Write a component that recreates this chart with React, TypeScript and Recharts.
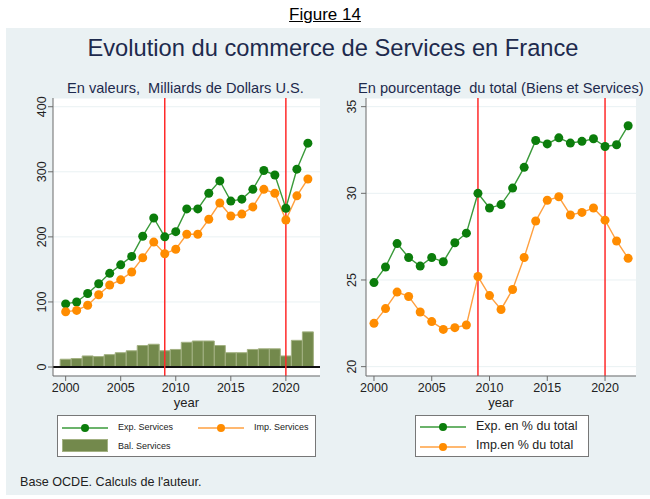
import { ComposedChart, Line, Bar, XAxis, YAxis, CartesianGrid, ReferenceLine } from 'recharts';

const YEARS = [2000, 2001, 2002, 2003, 2004, 2005, 2006, 2007, 2008, 2009, 2010, 2011, 2012, 2013, 2014, 2015, 2016, 2017, 2018, 2019, 2020, 2021, 2022];
const EXP_SERVICES = [97, 100, 113, 128, 144, 157, 170, 201, 229, 200, 208, 243, 243, 267, 286, 255, 258, 273, 302, 295, 244, 304, 344];
const IMP_SERVICES = [85, 87, 95, 111, 126, 134, 146, 168, 192, 174, 181, 204, 204, 227, 252, 232, 235, 246, 273, 267, 226, 263, 289];
const BAL_SERVICES = [12, 13, 17, 16, 19, 22, 25, 33, 35, 25, 27, 38, 40, 40, 33, 22, 22, 27, 28, 28, 17, 41, 54];
const EXP_PCT = [24.85, 25.75, 27.1, 26.3, 25.8, 26.3, 26.05, 27.15, 27.7, 30.0, 29.15, 29.35, 30.3, 31.5, 33.05, 32.85, 33.2, 32.9, 33.0, 33.15, 32.7, 32.8, 33.9];
const IMP_PCT = [22.5, 23.35, 24.3, 24.05, 23.15, 22.6, 22.15, 22.25, 22.4, 25.2, 24.1, 23.3, 24.45, 26.3, 28.4, 29.6, 29.8, 28.75, 28.9, 29.15, 28.45, 27.25, 26.25];
const X_TICKS = [2000, 2005, 2010, 2015, 2020];
const LEFT_Y_TICKS = [0, 100, 200, 300, 400];
const RIGHT_Y_TICKS = [20, 25, 30, 35];
const CRISIS_YEARS = [2009, 2020];

const valuesData = YEARS.map((year, i) => ({
    year,
    exp: EXP_SERVICES[i],
    imp: IMP_SERVICES[i],
    bal: BAL_SERVICES[i],
}));

const pctData = YEARS.map((year, i) => ({
    year,
    exp: EXP_PCT[i],
    imp: IMP_PCT[i],
}));

const FONT = '"Liberation Sans", Arial, sans-serif';
const NAVY = '#1d2a4d';
const TEXT = '#222';
const AXIS = '#6b6b6b';
const GRID = '#e9f1f3';
const GREEN_LINE = '#3a9a3a';
const GREEN_DOT = '#0b7d0b';
const ORANGE_LINE = '#ffa040';
const ORANGE_DOT = '#ff8c00';
const BAR_FILL = '#73894c';
const BAR_STROKE = '#a3b182';
const RED = '#ff2a2a';

const RotatedTick = (props: any) => {
    const { x, y, payload } = props;
    return (
        <text x={x} y={y} transform={`rotate(-90 ${x} ${y})`} textAnchor="middle" fontSize={12.5} fill={TEXT} fontFamily={FONT}>
            {payload.value}
        </text>
    );
};

const LineSwatch = ({ line, dot }: { line: string; dot: string }) => (
    <svg width={46} height={10} style={{ display: 'block' }}>
        <line x1={0} y1={5} x2={46} y2={5} stroke={line} strokeWidth={1.5} />
        <circle cx={23} cy={5} r={4} fill={dot} />
    </svg>
);

export default function App() {
    return (
        <div style={{ position: 'absolute', left: 0, top: 0, width: 650, height: 499, background: '#fff', fontFamily: FONT, overflow: 'hidden' }}>
            <div style={{ position: 'absolute', left: 0, top: 5, width: 650, textAlign: 'center', fontSize: 17, color: '#000', textDecoration: 'underline' }}>
                Figure 14
            </div>
            <div style={{ position: 'absolute', left: 6, top: 28, width: 644, height: 467, background: '#eaf1f3' }} />
            <div style={{ position: 'absolute', left: 0, top: 35, width: 666, textAlign: 'center', fontSize: 23.7, color: NAVY }}>
                Evolution du commerce de Services en France
            </div>
            <div style={{ position: 'absolute', left: 67, top: 80, fontSize: 14.6, color: NAVY, whiteSpace: 'pre' }}>
                {'En valeurs,  Milliards de Dollars U.S.'}
            </div>
            <div style={{ position: 'absolute', left: 358, top: 80, fontSize: 14.6, color: NAVY, whiteSpace: 'pre' }}>
                {'En pourcentage  du total (Biens et Services)'}
            </div>

            <div style={{ position: 'absolute', left: 0, top: 0 }}>
                <ComposedChart width={330} height={420} data={valuesData} margin={{ top: 98, right: 10, bottom: 14, left: 0 }}>
                    <CartesianGrid vertical={false} stroke={GRID} fill="#fff" fillOpacity={1} />
                    <XAxis
                        dataKey="year"
                        type="number"
                        domain={[1998.85, 2023.1]}
                        ticks={X_TICKS}
                        height={30}
                        tickSize={5}
                        stroke={AXIS}
                        tick={{ fontSize: 12.5, fill: TEXT, fontFamily: FONT }}
                        allowDataOverflow
                    />
                    <YAxis
                        type="number"
                        domain={[-13.8, 413.4]}
                        ticks={LEFT_Y_TICKS}
                        width={53}
                        tickSize={5}
                        stroke={AXIS}
                        tick={<RotatedTick />}
                        allowDataOverflow
                    />
                    <Bar dataKey="bal" barSize={11} fill={BAR_FILL} stroke={BAR_STROKE} strokeWidth={1} isAnimationActive={false} />
                    <ReferenceLine y={0} stroke="#111" strokeWidth={2} />
                    {CRISIS_YEARS.map((yr) => (
                        <ReferenceLine key={yr} x={yr} stroke={RED} strokeWidth={1.5} />
                    ))}
                    <Line dataKey="exp" stroke={GREEN_LINE} strokeWidth={1.4} dot={{ r: 4.5, fill: GREEN_DOT, stroke: GREEN_DOT, strokeWidth: 0 }} isAnimationActive={false} />
                    <Line dataKey="imp" stroke={ORANGE_LINE} strokeWidth={1.4} dot={{ r: 4.5, fill: ORANGE_DOT, stroke: ORANGE_DOT, strokeWidth: 0 }} isAnimationActive={false} />
                </ComposedChart>
            </div>

            <div style={{ position: 'absolute', left: 330, top: 0 }}>
                <ComposedChart width={320} height={420} data={pctData} margin={{ top: 98, right: 14, bottom: 14, left: 0 }}>
                    <CartesianGrid vertical={false} stroke={GRID} fill="#fff" fillOpacity={1} />
                    <XAxis
                        dataKey="year"
                        type="number"
                        domain={[1999.31, 2022.68]}
                        ticks={X_TICKS}
                        height={30}
                        tickSize={5}
                        stroke={AXIS}
                        tick={{ fontSize: 12.5, fill: TEXT, fontFamily: FONT }}
                        allowDataOverflow
                    />
                    <YAxis
                        type="number"
                        domain={[19.46, 35.5]}
                        ticks={RIGHT_Y_TICKS}
                        width={36}
                        tickSize={5}
                        tickMargin={5}
                        stroke={AXIS}
                        tick={<RotatedTick />}
                        allowDataOverflow
                    />
                    {CRISIS_YEARS.map((yr) => (
                        <ReferenceLine key={yr} x={yr} stroke={RED} strokeWidth={1.5} />
                    ))}
                    <Line dataKey="exp" stroke={GREEN_LINE} strokeWidth={1.4} dot={{ r: 4.5, fill: GREEN_DOT, stroke: GREEN_DOT, strokeWidth: 0 }} isAnimationActive={false} />
                    <Line dataKey="imp" stroke={ORANGE_LINE} strokeWidth={1.4} dot={{ r: 4.5, fill: ORANGE_DOT, stroke: ORANGE_DOT, strokeWidth: 0 }} isAnimationActive={false} />
                </ComposedChart>
            </div>

            <div style={{ position: 'absolute', left: 53, top: 395, width: 267, textAlign: 'center', fontSize: 13, color: TEXT }}>year</div>
            <div style={{ position: 'absolute', left: 366, top: 395, width: 270, textAlign: 'center', fontSize: 13, color: TEXT }}>year</div>

            <div style={{ position: 'absolute', left: 57, top: 415, width: 257, height: 40, background: '#fff', border: '1px solid #777', fontSize: 9, color: TEXT }}>
                <div style={{ position: 'absolute', left: 4, top: 7 }}><LineSwatch line={GREEN_LINE} dot={GREEN_DOT} /></div>
                <div style={{ position: 'absolute', left: 60, top: 6 }}>Exp. Services</div>
                <div style={{ position: 'absolute', left: 140, top: 7 }}><LineSwatch line={ORANGE_LINE} dot={ORANGE_DOT} /></div>
                <div style={{ position: 'absolute', left: 196, top: 6 }}>Imp. Services</div>
                <div style={{ position: 'absolute', left: 4, top: 23, width: 46, height: 13, background: BAR_FILL, border: `1px solid ${BAR_STROKE}`, boxSizing: 'border-box' }} />
                <div style={{ position: 'absolute', left: 60, top: 25 }}>Bal. Services</div>
            </div>

            <div style={{ position: 'absolute', left: 415, top: 415, width: 172, height: 40, background: '#fff', border: '1px solid #777', fontSize: 12.5, color: TEXT }}>
                <div style={{ position: 'absolute', left: 4, top: 6 }}><LineSwatch line={GREEN_LINE} dot={GREEN_DOT} /></div>
                <div style={{ position: 'absolute', left: 60, top: 3 }}>Exp. en % du total</div>
                <div style={{ position: 'absolute', left: 4, top: 26 }}><LineSwatch line={ORANGE_LINE} dot={ORANGE_DOT} /></div>
                <div style={{ position: 'absolute', left: 60, top: 22 }}>Imp.en % du total</div>
            </div>

            <div style={{ position: 'absolute', left: 20, top: 475, fontSize: 12.6, color: TEXT }}>Base OCDE. Calculs de l'auteur.</div>
        </div>
    );
}
